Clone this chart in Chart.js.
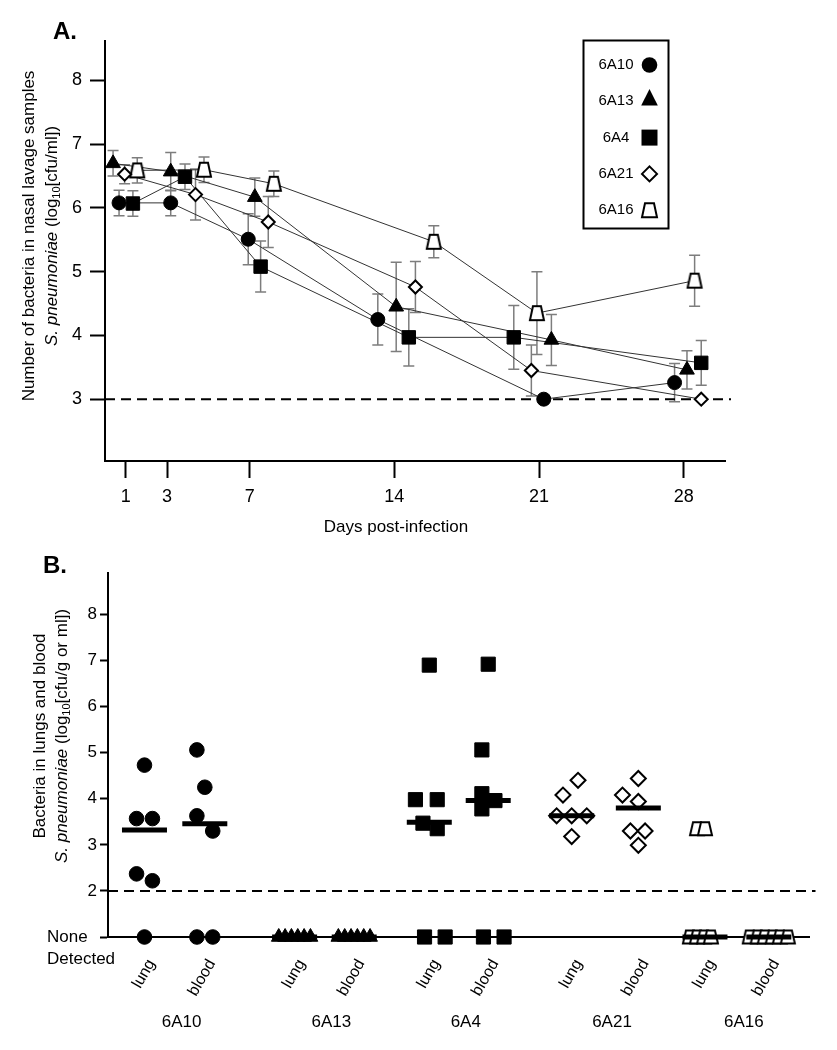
<!DOCTYPE html>
<html><head><meta charset="utf-8">
<script src="https://cdn.jsdelivr.net/npm/chart.js@4/dist/chart.umd.min.js"></script>
<style>
html,body{margin:0;padding:0;background:#fff;}
#wrap{position:relative;width:837px;height:1050px;overflow:hidden;}
#cA{position:absolute;left:0;top:0;}
#cB{position:absolute;left:0;top:545px;}
</style></head><body>
<div id="wrap"><canvas id="cA" width="837" height="545"></canvas><canvas id="cB" width="837" height="505"></canvas></div>
<script>
const FONT = "'Liberation Sans', Arial, Helvetica, sans-serif";

// ---------------- Panel A data ----------------
const seriesNames = ['6A10', '6A13', '6A4', '6A21', '6A16'];
const dayTicks = [1, 3, 7, 14, 21, 28];
const yTicksA = [3, 4, 5, 6, 7, 8];
const detectionLimitA = 3;

const days6A10 = [0.68, 3.18, 6.93, 13.2, 21.23, 27.56];
const log6A10  = [6.08, 6.08, 5.51, 4.25, 3.0, 3.26];
const err6A10  = [0.2, 0.2, 0.4, 0.4, 0, 0.3];

const days6A13 = [0.39, 3.18, 7.25, 14.09, 21.6, 28.16];
const log6A13  = [6.7, 6.57, 6.17, 4.45, 3.93, 3.46];
const err6A13  = [0.2, 0.3, 0.3, 0.7, 0.4, 0.3];

const days6A4 = [1.35, 3.87, 7.53, 14.7, 19.78, 28.85];
const log6A4  = [6.07, 6.49, 5.08, 3.97, 3.97, 3.57];
const err6A4  = [0.2, 0.2, 0.4, 0.45, 0.5, 0.35];

const days6A21 = [0.95, 4.38, 7.9, 15.02, 20.63, 28.85];
const log6A21  = [6.53, 6.21, 5.78, 4.76, 3.45, 3.0];
const err6A21  = [0.15, 0.4, 0.4, 0.4, 0.4, 0];

const days6A16 = [1.56, 4.79, 8.17, 15.91, 20.9, 28.53];
const log6A16  = [6.59, 6.6, 6.38, 5.47, 4.35, 4.86];
const err6A16  = [0.2, 0.2, 0.2, 0.25, 0.65, 0.4];

const titleA = 'A.';
const xTitleA = 'Days post-infection';
const yTitleA1 = 'Number of bacteria in nasal lavage samples';
const yTitleA2 = [{t: 'S. pneumoniae', it: true}, {t: ' (log'}, {t: '10', sub: true}, {t: '[cfu/ml])'}];

// ---------------- Panel B data ----------------
const strains = ['6A10', '6A13', '6A4', '6A21', '6A16'];
const sites = ['lung', 'blood'];
const ND = 1; // "None Detected" level
const yTicksB = [1, 2, 3, 4, 5, 6, 7, 8];
const detectionLimitB = 2;
const ndLabel = ['None', 'Detected'];

const lung6A10  = [4.73, 3.57, 3.57, 2.37, 2.22, ND];
const blood6A10 = [5.06, 4.25, 3.63, 3.30, ND, ND];
const lung6A13  = [ND, ND, ND, ND, ND, ND];
const blood6A13 = [ND, ND, ND, ND, ND, ND];
const lung6A4   = [6.90, 3.98, 3.98, 3.47, 3.35, ND, ND];
const blood6A4  = [6.92, 5.06, 4.11, 3.96, 3.78, ND, ND];
const lung6A21  = [4.40, 4.08, 3.63, 3.63, 3.63, 3.18];
const blood6A21 = [4.44, 4.08, 3.94, 3.30, 3.30, 2.99];
const lung6A16  = [3.35, 3.35, ND, ND, ND, ND];
const blood6A16 = [ND, ND, ND, ND, ND, ND];
const centralB  = [3.32, 3.46, ND, ND, 3.49, 3.96, 3.63, 3.80, ND, ND];

const titleB = 'B.';
const yTitleB1 = 'Bacteria in lungs and blood';
const yTitleB2 = [{t: 'S. pneumoniae', it: true}, {t: ' (log'}, {t: '10', sub: true}, {t: '[cfu/g or ml])'}];

// ---------------- layout (not data) ----------------
const slotPos = [0.52, 1.38, 2.66, 3.51, 4.58, 5.42, 6.61, 7.56, 8.51, 9.42];
const JIT = 0.113; // one marker step along x, axis units
const jitter = [
  [0, -1, 1, -1, 1, 0], [-1, 0, -1, 1, -1, 1],
  [-2, -1.2, -0.4, 0.4, 1.2, 2], [-2, -1.2, -0.4, 0.4, 1.2, 2],
  [0, -1.75, 1, -0.8, 1, -0.6, 2], [0, -0.8, -0.8, 0.85, -0.8, -0.6, 2],
  [0.8, -1.1, -1.9, 0, 1.9, 0], [0, -2, 0, -1, 0.85, 0],
  [-1, 0, -1.9, -1, -0.1, 0.75], [-2.4, -1.4, -0.5, 0.5, 1.4, 2.4]
];

Chart.defaults.font.family = FONT;
Chart.defaults.color = '#000';

function trapCanvas(bw, tw, h, lw) {
  const c = document.createElement('canvas');
  c.width = Math.ceil(bw + lw * 2 + 2); c.height = Math.ceil(h + lw * 2 + 2);
  const g = c.getContext('2d');
  const cx = c.width / 2, cy = c.height / 2;
  g.beginPath();
  g.moveTo(cx - tw / 2, cy - h / 2); g.lineTo(cx + tw / 2, cy - h / 2);
  g.lineTo(cx + bw / 2, cy + h / 2); g.lineTo(cx - bw / 2, cy + h / 2); g.closePath();
  g.fillStyle = '#fff'; g.fill(); g.lineWidth = lw; g.strokeStyle = '#000'; g.stroke();
  return c;
}
const trapA = trapCanvas(14, 8, 14, 2);
const trapB = trapCanvas(14, 8, 13, 2);

const markerA = [
  {pointStyle: 'circle', pointRadius: 7, pointBackgroundColor: '#000', pointBorderColor: '#000', pointBorderWidth: 1},
  {pointStyle: 'triangle', pointRadius: 8.5, pointBackgroundColor: '#000', pointBorderColor: '#000', pointBorderWidth: 1},
  {pointStyle: 'rect', pointRadius: 9.5, pointBackgroundColor: '#000', pointBorderColor: '#000', pointBorderWidth: 1},
  {pointStyle: 'rectRot', pointRadius: 6.5, pointBackgroundColor: '#fff', pointBorderColor: '#000', pointBorderWidth: 2},
  {pointStyle: trapA, pointRadius: 7, pointBackgroundColor: '#fff', pointBorderColor: '#000', pointBorderWidth: 0}
];
const markerB = [
  {pointStyle: 'circle', pointRadius: 7.3, pointBackgroundColor: '#000', pointBorderColor: '#000', pointBorderWidth: 1},
  {pointStyle: 'triangle', pointRadius: 8.5, pointBackgroundColor: '#000', pointBorderColor: '#000', pointBorderWidth: 1},
  {pointStyle: 'rect', pointRadius: 10, pointBackgroundColor: '#000', pointBorderColor: '#000', pointBorderWidth: 1},
  {pointStyle: 'rectRot', pointRadius: 7.5, pointBackgroundColor: '#fff', pointBorderColor: '#000', pointBorderWidth: 2},
  {pointStyle: trapB, pointRadius: 7, pointBackgroundColor: '#fff', pointBorderColor: '#000', pointBorderWidth: 0}
];

function richLine(ctx, segs, cx, cy, size) {
  let total = 0;
  const parts = segs.map(s => {
    const f = (s.it ? 'italic ' : '') + (s.sub ? Math.round(size * 0.66) : size) + 'px ' + FONT;
    ctx.font = f; const w = ctx.measureText(s.t).width; total += w;
    return {s, f, w};
  });
  let x = cx - total / 2;
  ctx.textAlign = 'left'; ctx.textBaseline = 'middle';
  parts.forEach(p => { ctx.font = p.f; ctx.fillText(p.s.t, x, cy + (p.s.sub ? size * 0.32 : 0)); x += p.w; });
}
function vertText(ctx, segs, x, y, size) {
  ctx.save(); ctx.translate(x, y); ctx.rotate(-Math.PI / 2);
  richLine(ctx, segs, 0, 0, size); ctx.restore();
}
function drawLegendMarker(ctx, k, x, y) {
  ctx.save(); ctx.fillStyle = '#000'; ctx.strokeStyle = '#000'; ctx.lineWidth = 2;
  ctx.beginPath();
  if (k === 0) { ctx.arc(x, y, 7.8, 0, Math.PI * 2); ctx.fill(); }
  else if (k === 1) { ctx.moveTo(x, y - 8.3); ctx.lineTo(x + 8.3, y + 8.3); ctx.lineTo(x - 8.3, y + 8.3); ctx.closePath(); ctx.fill(); }
  else if (k === 2) { ctx.rect(x - 8, y - 8, 16, 16); ctx.fill(); }
  else if (k === 3) { ctx.moveTo(x, y - 7.5); ctx.lineTo(x + 7.5, y); ctx.lineTo(x, y + 7.5); ctx.lineTo(x - 7.5, y); ctx.closePath(); ctx.fillStyle = '#fff'; ctx.fill(); ctx.stroke(); }
  else { ctx.moveTo(x - 4.5, y - 7); ctx.lineTo(x + 4.5, y - 7); ctx.lineTo(x + 7.5, y + 7); ctx.lineTo(x - 7.5, y + 7); ctx.closePath(); ctx.fillStyle = '#fff'; ctx.fill(); ctx.stroke(); }
  ctx.restore();
}

const errorBars = {
  id: 'errorBars',
  beforeDatasetsDraw(chart) {
    const {ctx, scales: {x, y}} = chart;
    ctx.save(); ctx.strokeStyle = '#7d7d7d'; ctx.lineWidth = 1.5;
    chart.data.datasets.forEach(ds => {
      if (!ds.errors) return;
      ds.data.forEach((p, i) => {
        const e = ds.errors[i]; if (!e) return;
        const px = x.getPixelForValue(p.x), t = y.getPixelForValue(p.y + e), b = y.getPixelForValue(p.y - e);
        ctx.beginPath();
        ctx.moveTo(px, t); ctx.lineTo(px, b);
        ctx.moveTo(px - 5.5, t); ctx.lineTo(px + 5.5, t);
        ctx.moveTo(px - 5.5, b); ctx.lineTo(px + 5.5, b);
        ctx.stroke();
      });
    });
    ctx.restore();
  }
};
function dashedLimit(value) {
  return {
    id: 'limit' + value,
    beforeDatasetsDraw(chart) {
      const {ctx, chartArea, scales: {y}} = chart;
      const py = y.getPixelForValue(value);
      ctx.save(); ctx.strokeStyle = '#000'; ctx.lineWidth = 2; ctx.setLineDash([10, 6]);
      ctx.beginPath(); ctx.moveTo(chartArea.left, py); ctx.lineTo(chartArea.right + 6, py); ctx.stroke();
      ctx.restore();
    }
  };
}

// ---------------- Chart A ----------------
const daysA = [days6A10, days6A13, days6A4, days6A21, days6A16];
const valsA = [log6A10, log6A13, log6A4, log6A21, log6A16];
const errsA = [err6A10, err6A13, err6A4, err6A21, err6A16];
const dsA = [];
seriesNames.forEach((n, k) => {
  const pts = daysA[k].map((d, i) => ({x: d, y: valsA[k][i]}));
  dsA.push(Object.assign({label: n, data: pts, errors: errsA[k], showLine: false, order: 1, clip: false}, markerA[k]));
  dsA.push({label: n + ' line', data: pts, showLine: true, pointRadius: 0, borderColor: '#333', borderWidth: 1, order: 5, clip: false});
});

const annotA = {
  id: 'annotA',
  afterDraw(chart) {
    const ctx = chart.ctx;
    ctx.save(); ctx.fillStyle = '#000';
    ctx.font = 'bold 24px ' + FONT; ctx.textAlign = 'left'; ctx.textBaseline = 'alphabetic';
    ctx.fillText(titleA, 53, 39);
    ctx.font = '17px ' + FONT; ctx.textAlign = 'center'; ctx.textBaseline = 'middle';
    ctx.fillText(xTitleA, 396, 527);
    vertText(ctx, [{t: yTitleA1}], 29, 236, 17);
    vertText(ctx, yTitleA2, 52, 236, 17);
    // legend
    ctx.strokeStyle = '#000'; ctx.lineWidth = 2; ctx.strokeRect(583.5, 40.5, 85, 188);
    ctx.font = '15px ' + FONT; ctx.textAlign = 'center'; ctx.textBaseline = 'middle';
    seriesNames.forEach((n, k) => {
      const ty = 65 + k * 36.3;
      ctx.fillStyle = '#000'; ctx.fillText(n, 616, ty);
      drawLegendMarker(ctx, k, 649.5, k === 1 ? ty - 4 : ty);
    });
    ctx.restore();
  }
};

new Chart(document.getElementById('cA'), {
  type: 'scatter',
  data: {datasets: dsA},
  options: {
    responsive: false, animation: false, devicePixelRatio: 1,
    layout: {padding: {top: 41, right: 112, bottom: 0, left: 0}},
    plugins: {legend: {display: false}, tooltip: {enabled: false}},
    scales: {
      x: {
        type: 'linear', min: 0, max: 30,
        afterBuildTicks: s => { s.ticks = dayTicks.map(v => ({value: v})); },
        afterFit: s => { s.height = 84; },
        grid: {display: true, drawOnChartArea: false, drawTicks: true, tickLength: 17, tickWidth: 2, tickColor: '#000'},
        border: {display: true, color: '#000', width: 2},
        ticks: {color: '#000', font: {size: 18}, padding: 8, maxRotation: 0, autoSkip: false}
      },
      y: {
        type: 'linear', min: 2.03, max: 8.62,
        afterBuildTicks: s => { s.ticks = yTicksA.map(v => ({value: v})); },
        afterFit: s => { s.width = 105; },
        grid: {display: true, drawOnChartArea: false, drawTicks: true, tickLength: 15, tickWidth: 2, tickColor: '#000'},
        border: {display: true, color: '#000', width: 2},
        ticks: {color: '#000', font: {size: 18}, padding: 8}
      }
    }
  },
  plugins: [errorBars, dashedLimit(detectionLimitA), annotA]
});

// ---------------- Chart B ----------------
const valsB = [lung6A10, blood6A10, lung6A13, blood6A13, lung6A4, blood6A4, lung6A21, blood6A21, lung6A16, blood6A16];
const dsB = [];
strains.forEach((n, g) => {
  const pts = [];
  for (let s = 0; s < 2; s++) {
    const c = g * 2 + s;
    valsB[c].forEach((v, i) => pts.push({x: slotPos[c] + jitter[c][i] * JIT, y: v}));
  }
  dsB.push(Object.assign({label: n, data: pts, showLine: false, order: 2, clip: false}, markerB[g]));
});
dsB.push({
  label: 'central', data: centralB.map((v, c) => ({x: slotPos[c], y: v})),
  showLine: false, order: 0, clip: false,
  pointStyle: 'line', pointRadius: 22.5, pointBorderWidth: 5, pointBorderColor: '#000', pointBackgroundColor: '#000'
});

const annotB = {
  id: 'annotB',
  afterDraw(chart) {
    const ctx = chart.ctx, x = chart.scales.x, y = chart.scales.y;
    ctx.save(); ctx.fillStyle = '#000';
    ctx.font = 'bold 24px ' + FONT; ctx.textAlign = 'left'; ctx.textBaseline = 'alphabetic';
    ctx.fillText(titleB, 43, 28);
    vertText(ctx, [{t: yTitleB1}], 40, 191, 17);
    vertText(ctx, yTitleB2, 62, 191, 17);
    ctx.font = '17px ' + FONT; ctx.textAlign = 'left'; ctx.textBaseline = 'middle';
    const ndY = y.getPixelForValue(ND);
    ctx.fillText(ndLabel[0], 47, ndY);
    ctx.fillText(ndLabel[1], 47, ndY + 22);
    ctx.textAlign = 'center';
    strains.forEach((n, g) => {
      const cx = (x.getPixelForValue(slotPos[g * 2]) + x.getPixelForValue(slotPos[g * 2 + 1])) / 2 + 7;
      ctx.fillText(n, cx, 477);
    });
    ctx.restore();
  }
};

new Chart(document.getElementById('cB'), {
  type: 'scatter',
  data: {datasets: dsB},
  options: {
    responsive: false, animation: false, devicePixelRatio: 1,
    layout: {padding: {top: 10, right: 22, bottom: 0, left: 0}},
    plugins: {legend: {display: false}, tooltip: {enabled: false}},
    scales: {
      x: {
        type: 'linear', min: 0, max: 10,
        afterBuildTicks: s => { s.ticks = slotPos.map(v => ({value: v})); },
        afterFit: s => { s.height = 113; },
        grid: {display: false, drawTicks: false},
        border: {display: true, color: '#000', width: 2},
        ticks: {color: '#000', font: {size: 16}, padding: 19, minRotation: 60, maxRotation: 60, autoSkip: false, labelOffset: 7,
          callback: (v, i) => sites[i % 2]}
      },
      y: {
        type: 'linear', min: ND, max: 8.91,
        afterBuildTicks: s => { s.ticks = yTicksB.map(v => ({value: v})); },
        afterFit: s => { s.width = 108; },
        grid: {display: true, drawOnChartArea: false, drawTicks: true, tickLength: 8, tickWidth: 2, tickColor: '#000'},
        border: {display: true, color: '#000', width: 2},
        ticks: {color: '#000', font: {size: 17}, padding: 3, callback: v => (v === ND ? '' : v)}
      }
    }
  },
  plugins: [dashedLimit(detectionLimitB), annotB]
});
</script>
</body></html>
